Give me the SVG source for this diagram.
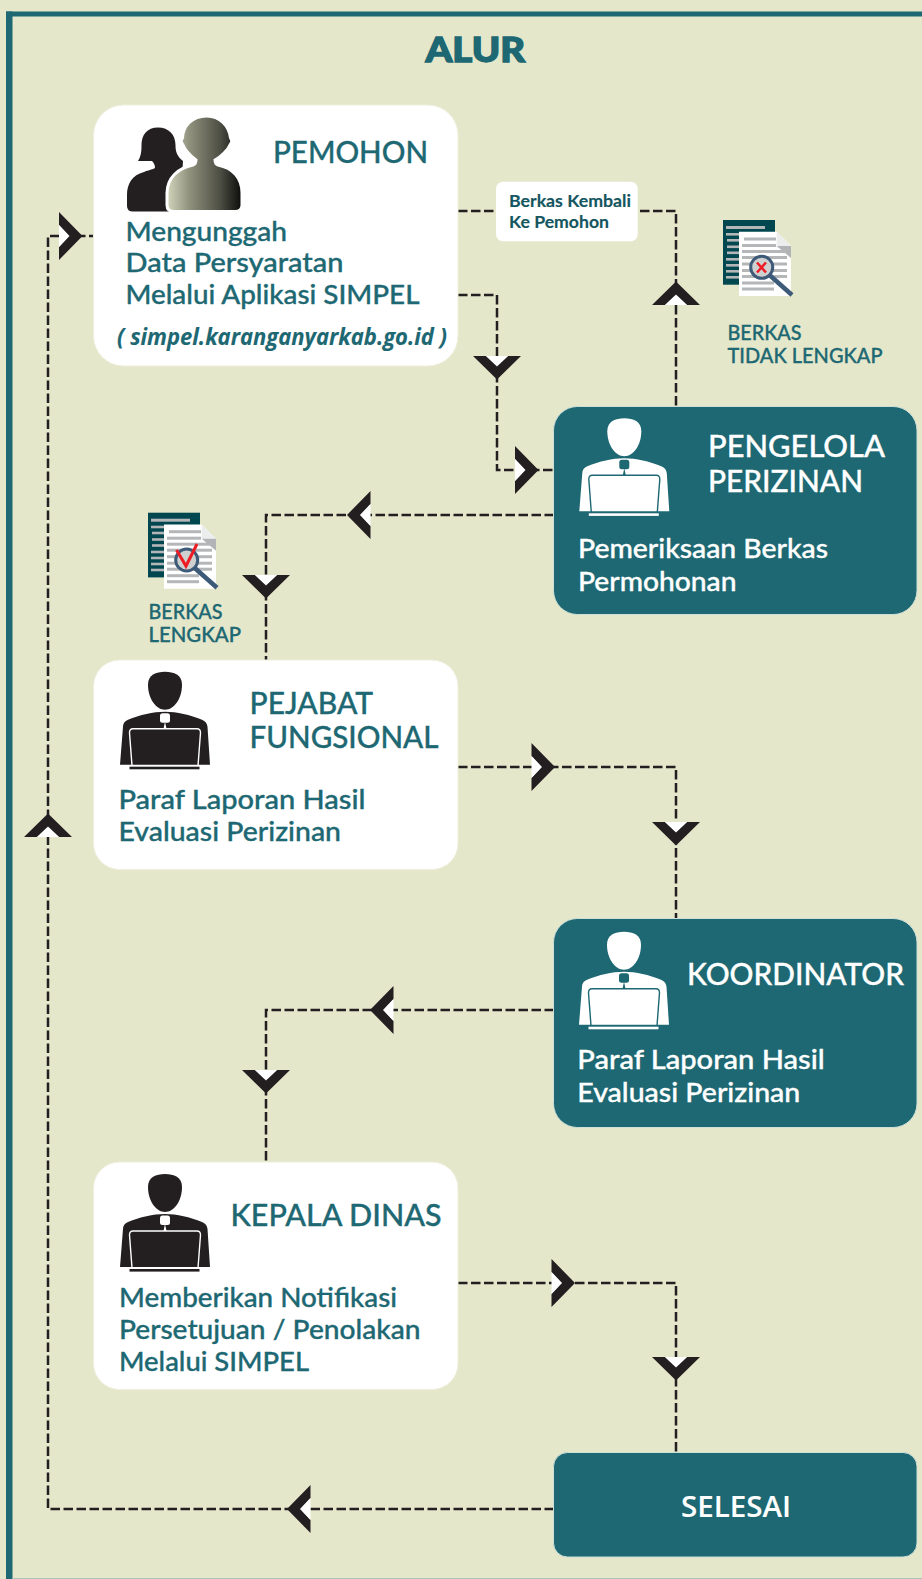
<svg xmlns="http://www.w3.org/2000/svg" width="922" height="1579" viewBox="0 0 922 1579">
<style>
text{font-family:"Lato","Noto Sans",sans-serif;font-weight:500;fill:#1d6872;stroke:#1d6872;stroke-width:.35}
text.w{fill:#fff;stroke:#fff}
.h{font-size:30px}
.b{font-size:27px}
.s{font-size:20.500px}
text.d{font-size:17px;fill:#14565f;stroke:#14565f;stroke-width:.15;font-weight:700}
.box{fill:#fff;stroke:#eeefdc;stroke-width:1}
.tbox{fill:#1d6872;stroke:#cfe0d8;stroke-width:1}
#connectors path{fill:none;stroke:#231f20;stroke-width:2.500;stroke-dasharray:9.500 3.500}
</style>
<defs>
<linearGradient id="grad"><stop offset="0" stop-color="#d3d5bc"/><stop offset=".3" stop-color="#90917d"/><stop offset=".7" stop-color="#4f5045"/><stop offset="1" stop-color="#0a0a09"/></linearGradient>
<g id="chev"><polygon points="-24,0 -11,0 0,10 11,0 24,0 0,23.500" fill="#231f20"/><polygon points="-11,0 11,0 0,10.500" fill="#fff"/></g>
<g id="person">
<path fill="currentColor" d="M28,13C28,3 36,0 45,0C54,0 62,3 62,13C62,27 54,38 45,38C36,38 28,27 28,13Z"/>
<path fill="currentColor" d="M0,93L3,55Q3,50 8,48C20,43 33,40 45,40C57,40 70,43 82,48Q87,50 87.500,55L90,93Z"/>
<path d="M12,94L9.500,61Q9.500,57 13,57L77,57Q80.500,57 80.500,61L78,94" fill="none" stroke="var(--c)" stroke-width="1.400"/>
<rect x="40" y="41.500" width="10" height="9.500" rx="2.500" fill="var(--c)"/>
<polygon points="45,50 43.500,57 46.500,57" fill="var(--c)"/>
<rect x="9.500" y="95" width="70" height="2.600" fill="currentColor"/>
</g>
<g id="doc">
<rect x="0" y="0" width="52" height="64.700" fill="#004750"/>
<g fill="#b4b6b8"><rect x="3" y="6" width="39" height="3"/><rect x="3" y="13" width="13" height="2.600"/><rect x="4" y="19" width="12" height="2.600"/><rect x="4" y="25.500" width="12" height="2.600"/><rect x="4" y="31.500" width="12" height="2.600"/><rect x="3" y="38" width="13" height="2.600"/><rect x="3" y="44" width="13" height="2.600"/><rect x="3" y="50" width="13" height="2.600"/><rect x="3" y="56" width="13" height="2.600"/></g>
<polygon points="16,11.700 53.700,11.700 68,26 68,76 16,76" fill="#fff"/>
<polygon points="53.700,11.700 68,26 53.700,26" fill="#eceded"/>
<polygon points="53.700,26 68,26 68,38" fill="#b1b3b6"/>
<g fill="#b4b6b8"><rect x="21" y="17.500" width="32" height="3"/><rect x="19" y="24" width="34" height="3"/><rect x="19" y="30" width="45" height="3"/><rect x="19" y="36" width="45" height="3"/><rect x="19" y="42.500" width="45" height="3"/><rect x="19" y="49" width="45" height="3"/><rect x="19" y="55" width="45" height="3"/><rect x="19" y="61.500" width="32" height="3"/><rect x="19" y="67.500" width="32" height="3"/></g>
<circle cx="38.700" cy="47.300" r="11" fill="#cfd0d0" stroke="#3d5a78" stroke-width="3"/>
<path d="M47,55.500L69,75" stroke="#3d5a78" stroke-width="4.500" fill="none"/>
</g>
</defs>
<rect width="922" height="1579" fill="#e5e7cb"/>
<g id="frame" fill="#1d6872"><rect x="6" y="11.500" width="916" height="5"/><rect x="6" y="11.500" width="6.500" height="1567.500"/><rect x="12.500" y="1578" width="909.500" height="1" fill="#a9c4b4"/></g>
<text id="title" x="425.500" y="61.500" style="font-size:34px;font-weight:900;stroke-width:1.300" textLength="99.500" lengthAdjust="spacingAndGlyphs">ALUR</text>
<g id="connectors">
<path d="M458,211H676V407"/>
<path d="M458,295H497V470H554"/>
<path d="M554,515H266V660"/>
<path d="M458,767H676V919"/>
<path d="M554,1010H266V1162"/>
<path d="M458,1283H676V1453"/>
<path d="M554,1509H48V236H94"/>
</g>
<g id="arrows">
<use href="#chev" transform="translate(59,236) rotate(-90)"/>
<use href="#chev" transform="translate(676,305) rotate(180)"/>
<use href="#chev" transform="translate(497,356)"/>
<use href="#chev" transform="translate(515,470) rotate(-90)"/>
<use href="#chev" transform="translate(370.500,515) rotate(90)"/>
<use href="#chev" transform="translate(266,575)"/>
<use href="#chev" transform="translate(531.500,767) rotate(-90)"/>
<use href="#chev" transform="translate(676,822)"/>
<use href="#chev" transform="translate(393.500,1010) rotate(90)"/>
<use href="#chev" transform="translate(266,1070)"/>
<use href="#chev" transform="translate(551.500,1283) rotate(-90)"/>
<use href="#chev" transform="translate(676,1357)"/>
<use href="#chev" transform="translate(310.500,1509) rotate(90)"/>
<use href="#chev" transform="translate(48,837) rotate(180)"/>
</g>
<g id="node-pemohon">
<rect class="box" x="93.500" y="105" width="364.500" height="261" rx="30"/>
<path fill="#231f20" d="M158,127.500C147,127.500 141.500,135 141.500,145C141.500,152 141,156 138,161L152,161C154,163 155,165 155,168C151,170 149,170 144,172C132,175 127,184 127,195L127,206Q127,211.500 133,211.500L180,211.500L183,161C177,156 175.500,152 175.500,145C175.500,135 169,127.500 158,127.500Z"/>
<path fill="url(#grad)" stroke="#fff" stroke-width="3" d="M206.700,116C192,116 183,126 182.500,138Q180,141.500 182.500,144C185,150 192,157 196,160Q196,164 193,165C178,168 167,178 167,193L167,205Q167,211.500 174,211.500L235,211.500Q242,211.500 242,205L242,193C242,178 233,168 218,165Q215,164 215,160C221,157 228,150 230.500,144Q233,141.500 230.500,138C229,126 220,116 206.700,116Z"/>
<text class="h" x="273" y="162.700" textLength="155" lengthAdjust="spacingAndGlyphs">PEMOHON</text>
<text class="b" x="125.500" y="240.700" textLength="161.500" lengthAdjust="spacingAndGlyphs">Mengunggah</text>
<text class="b" x="125.500" y="272.300" textLength="218" lengthAdjust="spacingAndGlyphs">Data Persyaratan</text>
<text class="b" x="125.500" y="304" textLength="294" lengthAdjust="spacingAndGlyphs">Melalui Aplikasi SIMPEL</text>
<text x="117" y="345" style="font-family:'Open Sans','Noto Sans',sans-serif;font-size:22.500px;font-weight:700;font-style:italic;stroke-width:.1" textLength="330" lengthAdjust="spacingAndGlyphs">( simpel.karanganyarkab.go.id )</text>
</g>
<g id="label-kembali">
<rect x="496" y="181.700" width="141.700" height="59.600" rx="7" fill="#fff"/>
<text class="d" x="509" y="206.700" textLength="122" lengthAdjust="spacingAndGlyphs">Berkas Kembali</text>
<text class="d" x="509" y="228.300" textLength="100" lengthAdjust="spacingAndGlyphs">Ke Pemohon</text>
</g>
<g id="doc-tidak-lengkap">
<use href="#doc" transform="translate(723,220)"/>
<path d="M757,262.500L766,272.500M766,262.500L757,272.500" stroke="#ed1c24" stroke-width="2.500" fill="none"/>
<text class="s" x="727.500" y="340" textLength="74" lengthAdjust="spacingAndGlyphs">BERKAS</text>
<text class="s" x="727.500" y="362.700" textLength="155" lengthAdjust="spacingAndGlyphs">TIDAK LENGKAP</text>
</g>
<g id="node-pengelola">
<rect class="tbox" x="553.500" y="406.500" width="363.500" height="208" rx="24"/>
<use href="#person" x="579.300" y="418.300" style="color:#fff;--c:#1d6872"/>
<text class="h w" x="708" y="457.300" textLength="177" lengthAdjust="spacingAndGlyphs">PENGELOLA</text>
<text class="h w" x="708" y="492" textLength="155" lengthAdjust="spacingAndGlyphs">PERIZINAN</text>
<text class="b w" x="578" y="558.300" textLength="250" lengthAdjust="spacingAndGlyphs">Pemeriksaan Berkas</text>
<text class="b w" x="578" y="590.700" textLength="158.500" lengthAdjust="spacingAndGlyphs">Permohonan</text>
</g>
<g id="doc-lengkap">
<use href="#doc" transform="translate(148,512.700)"/>
<path d="M176.500,550L186,566L197,544" stroke="#ed1c24" stroke-width="3" fill="none"/>
<text class="s" x="148.500" y="619.300" textLength="74" lengthAdjust="spacingAndGlyphs">BERKAS</text>
<text class="s" x="148.500" y="642.300" textLength="92.500" lengthAdjust="spacingAndGlyphs">LENGKAP</text>
</g>
<g id="node-pejabat">
<rect class="box" x="93.500" y="660" width="364.500" height="209.500" rx="26"/>
<use href="#person" x="120" y="671.700" style="color:#231f20;--c:#fff"/>
<text class="h" x="249.500" y="714" textLength="123.500" lengthAdjust="spacingAndGlyphs">PEJABAT</text>
<text class="h" x="249.500" y="748.300" textLength="189" lengthAdjust="spacingAndGlyphs">FUNGSIONAL</text>
<text class="b" x="118.500" y="809.300" textLength="247" lengthAdjust="spacingAndGlyphs">Paraf Laporan Hasil</text>
<text class="b" x="118.500" y="841" textLength="222.500" lengthAdjust="spacingAndGlyphs">Evaluasi Perizinan</text>
</g>
<g id="node-koordinator">
<rect class="tbox" x="553.500" y="918.500" width="363.500" height="209" rx="24"/>
<use href="#person" x="579" y="931.700" style="color:#fff;--c:#1d6872"/>
<text class="h w" x="687" y="985" textLength="217" lengthAdjust="spacingAndGlyphs">KOORDINATOR</text>
<text class="b w" x="577.300" y="1069.300" textLength="247.500" lengthAdjust="spacingAndGlyphs">Paraf Laporan Hasil</text>
<text class="b w" x="577.300" y="1101.700" textLength="223" lengthAdjust="spacingAndGlyphs">Evaluasi Perizinan</text>
</g>
<g id="node-kepala">
<rect class="box" x="93.500" y="1162" width="364.500" height="227.500" rx="26"/>
<use href="#person" x="120" y="1174" style="color:#231f20;--c:#fff"/>
<text class="h" x="230.500" y="1226" textLength="211" lengthAdjust="spacingAndGlyphs">KEPALA DINAS</text>
<text class="b" x="119" y="1306.700" textLength="278" lengthAdjust="spacingAndGlyphs">Memberikan Notifikasi</text>
<text class="b" x="119" y="1339" textLength="301.500" lengthAdjust="spacingAndGlyphs">Persetujuan / Penolakan</text>
<text class="b" x="119" y="1370.700" textLength="190" lengthAdjust="spacingAndGlyphs">Melalui SIMPEL</text>
</g>
<g id="node-selesai">
<rect class="tbox" x="553.500" y="1452.500" width="363.500" height="104.500" rx="14"/>
<text class="w" x="681" y="1516.700" style="font-family:'Open Sans','Noto Sans',sans-serif;font-size:29px;font-weight:600;stroke-width:.1" textLength="110" lengthAdjust="spacingAndGlyphs">SELESAI</text>
</g>
</svg>
